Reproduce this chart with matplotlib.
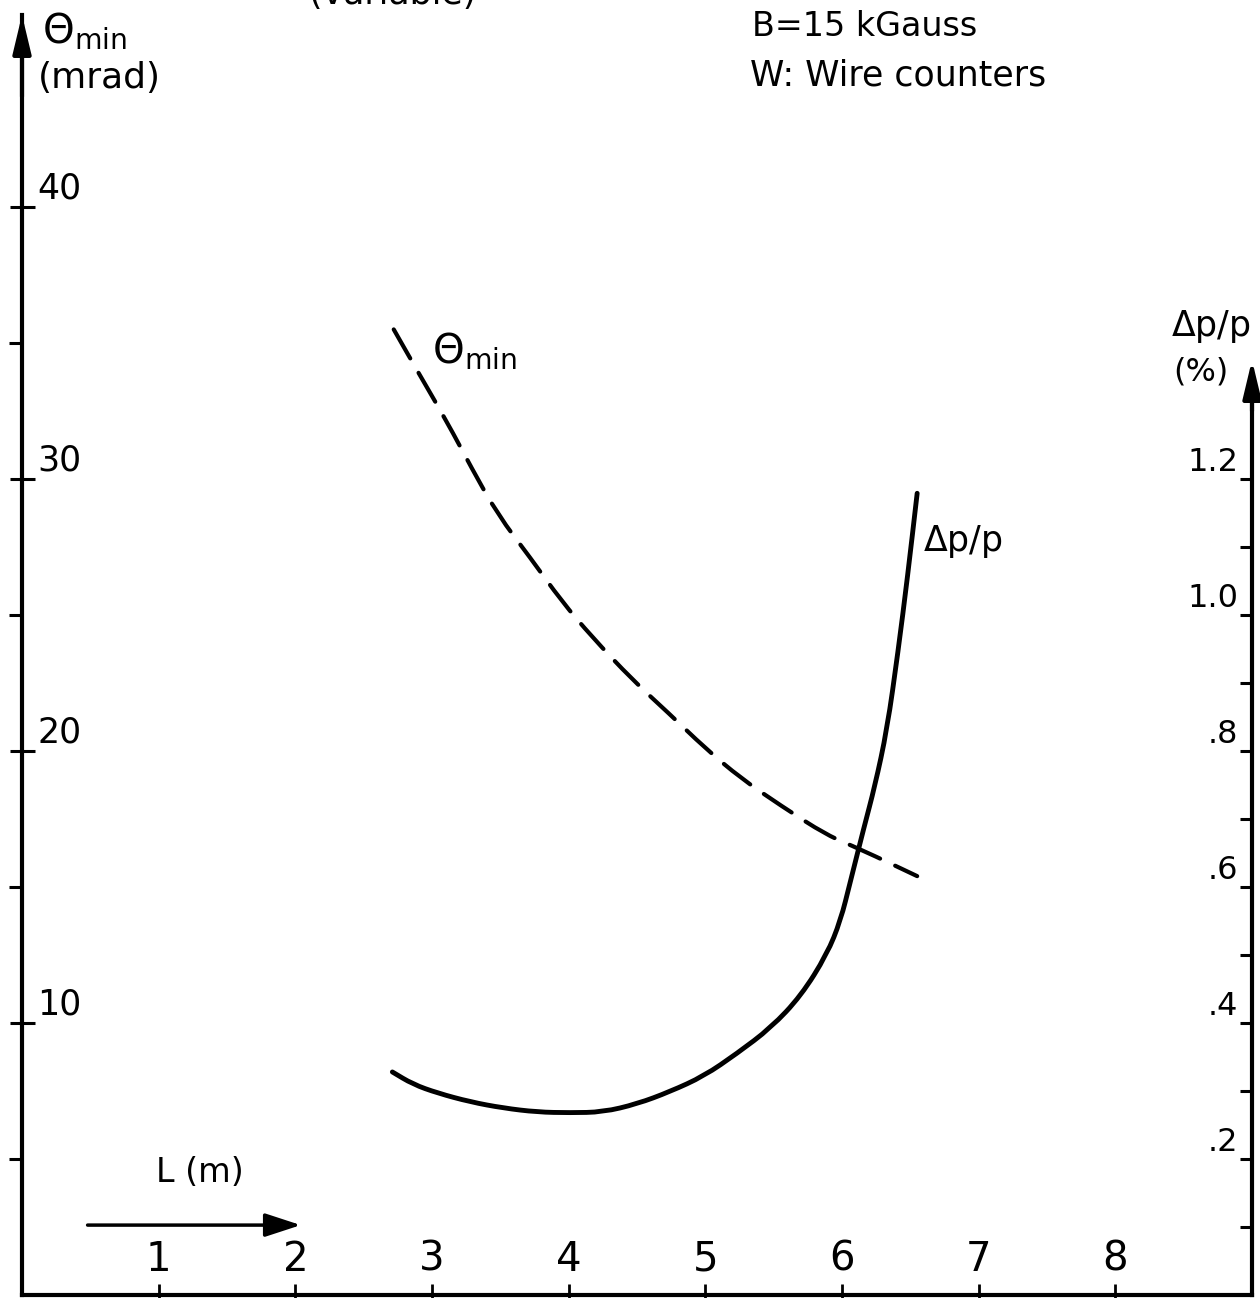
import matplotlib.pyplot as plt
from matplotlib import font_manager
from matplotlib.path import Path
from matplotlib.patches import PathPatch

plt.rcParams['font.family'] = ['DejaVu Sans']
plt.rcParams['mathtext.fontset'] = 'dejavusans'

# Dane očitane sa slike: L (m), Theta_min (mrad), dp/p (%)
L_theta = [2.72, 2.89, 3.11, 3.29, 3.48, 3.72, 3.95, 4.17, 4.47, 4.73,
           5.00, 5.26, 5.55, 5.89, 6.13, 6.55]
theta_min = [35.5, 34.0, 32.1, 30.4, 28.7, 27.1, 25.5, 24.2, 22.6, 21.4,
             20.1, 19.0, 18.0, 16.9, 16.4, 15.4]

L_dp = [2.71, 2.86, 3.04, 3.28, 3.52, 3.77, 4.01, 4.25, 4.50, 4.74, 4.99,
        5.23, 5.48, 5.70, 5.89, 5.99, 6.06, 6.16, 6.24, 6.33, 6.41, 6.48, 6.55]
dp_p = [0.328, 0.310, 0.297, 0.284, 0.275, 0.269, 0.268, 0.269, 0.281, 0.299,
        0.322, 0.355, 0.393, 0.440, 0.501, 0.551, 0.607, 0.687, 0.748, 0.832,
        0.946, 1.057, 1.179]

x_ticks = [1, 2, 3, 4, 5, 6, 7, 8]
left_major = [10, 20, 30, 40]
left_minor = [5, 15, 25, 35]
right_ticks = [0.1, 0.2, 0.3, 0.4, 0.5, 0.6, 0.7, 0.8, 0.9, 1.0, 1.1, 1.2]
right_labels = {0.2: '.2', 0.4: '.4', 0.6: '.6', 0.8: '.8', 1.0: '1.0', 1.2: '1.2'}

available = {f.name for f in font_manager.fontManager.ttflist}
narrow = 'Liberation Sans Narrow' if 'Liberation Sans Narrow' in available else 'DejaVu Sans'

ymax = 47.06
scale = 25.0  # 1 % dp/p = 25 mrad na crtežu


def smooth_path(xs, ys):
    # glatka krivulja kroz sredine segmenata (kvadratni Bezier)
    pts = list(zip(xs, ys))
    verts = [pts[0]]
    codes = [Path.MOVETO]
    mid = lambda a, b: ((a[0] + b[0]) / 2, (a[1] + b[1]) / 2)
    verts.append(mid(pts[0], pts[1]))
    codes.append(Path.LINETO)
    for i in range(1, len(pts) - 1):
        verts += [pts[i], mid(pts[i], pts[i + 1])]
        codes += [Path.CURVE3, Path.CURVE3]
    verts.append(pts[-1])
    codes.append(Path.LINETO)
    return Path(verts, codes)


fig = plt.figure(figsize=(12.6, 12.98), dpi=100)
ax = fig.add_axes([22 / 1260, 3 / 1298, 1230 / 1260, 1280 / 1298])
ax.set_xlim(0, 9)
ax.set_ylim(0, ymax)
ax2 = ax.twinx()
ax2.set_ylim(0, ymax / scale)

lw_axis = 3
for s in ['top', 'right']:
    ax.spines[s].set_visible(False)
for s in ['top', 'left', 'bottom']:
    ax2.spines[s].set_visible(False)
ax.spines['left'].set_linewidth(lw_axis)
ax.spines['bottom'].set_linewidth(lw_axis)
ax2.spines['right'].set_linewidth(lw_axis)
ax2.spines['right'].set_bounds(0, 1.33)

# Strelice na osima
arrow = dict(arrowstyle='-|>,head_length=2.3,head_width=0.55', lw=lw_axis,
             color='k', shrinkA=0, shrinkB=0, mutation_scale=10)
ax.annotate('', xy=(0, ymax), xytext=(0, ymax - 3), arrowprops=arrow,
            annotation_clip=False)
ax2.annotate('', xy=(9, 1.375), xytext=(9, 1.30), arrowprops=arrow,
             annotation_clip=False)

# Lijeva os
ax.set_yticks(left_major)
ax.set_yticks(left_minor, minor=True)
ax.tick_params(axis='y', which='major', direction='inout', length=18, width=2.2,
               labelleft=False)
ax.tick_params(axis='y', which='minor', direction='out', length=9.5, width=2.2)
for v in left_major:
    ax.annotate(str(v), xy=(0, v), xycoords='data', xytext=(11, 1),
                textcoords='offset points', ha='left', va='bottom', fontsize=25)

# Donja os
ax.set_xticks(x_ticks)
ax.tick_params(axis='x', direction='inout', length=16, width=2, labelbottom=False)
for v in x_ticks:
    ax.annotate(str(v), xy=(v, 0), xycoords='data', xytext=(0, 11),
                textcoords='offset points', ha='center', va='bottom',
                fontsize=29, family=narrow)

# Desna os
ax2.set_yticks(right_ticks)
ax2.tick_params(axis='y', direction='in', length=8.6, width=2.2, labelright=False)
for v, t in right_labels.items():
    ax2.annotate(t, xy=(9, v), xycoords='data', xytext=(-10, 1),
                 textcoords='offset points', ha='right', va='bottom', fontsize=23)

# Krivulje
ax.add_patch(PathPatch(smooth_path(L_theta, theta_min), fill=False, ec='k',
                       lw=3, linestyle=(0, (8, 4)), capstyle='round'))
ax2.add_patch(PathPatch(smooth_path(L_dp, dp_p), fill=False, ec='k', lw=3.5,
                        capstyle='round'))

ax.text(3.0, 34.7, r'$\Theta_{\mathrm{min}}$', fontsize=29, ha='left', va='center')
ax.text(6.59, 27.7, r'$\Delta$p/p', fontsize=25, ha='left', va='center')

# Oznake osi i tekst
fig.text(42 / 1260, 1 - 32 / 1298, r'$\Theta_{\mathrm{min}}$', fontsize=29,
         ha='left', va='center')
fig.text(38 / 1260, 1 - 78 / 1298, '(mrad)', fontsize=26, ha='left', va='center')
fig.text(1251 / 1260, 1 - 327 / 1298, r'$\Delta$p/p', fontsize=25,
         ha='right', va='center')
fig.text(1228 / 1260, 1 - 372 / 1298, '(%)', fontsize=23, ha='right', va='center')
fig.text(752 / 1260, 1 - 26 / 1298, 'B=15 kGauss', fontsize=24, ha='left',
         va='center')
fig.text(750 / 1260, 1 - 76 / 1298, 'W: Wire counters', fontsize=25, ha='left',
         va='center')
fig.text(393 / 1260, 1 - 4 / 1298, '(variable)', fontsize=25, ha='center',
         va='baseline')

ax.text(1.30, 4.5, 'L (m)', fontsize=24, ha='center', va='center', family=narrow)
ax.annotate('', xy=(2.04, 2.57), xytext=(0.48, 2.57),
            arrowprops=dict(arrowstyle='-|>,head_length=2.2,head_width=0.72',
                            lw=2.5, color='k', shrinkA=0, shrinkB=0,
                            mutation_scale=10))

fig.savefig('out.png', dpi=100)
